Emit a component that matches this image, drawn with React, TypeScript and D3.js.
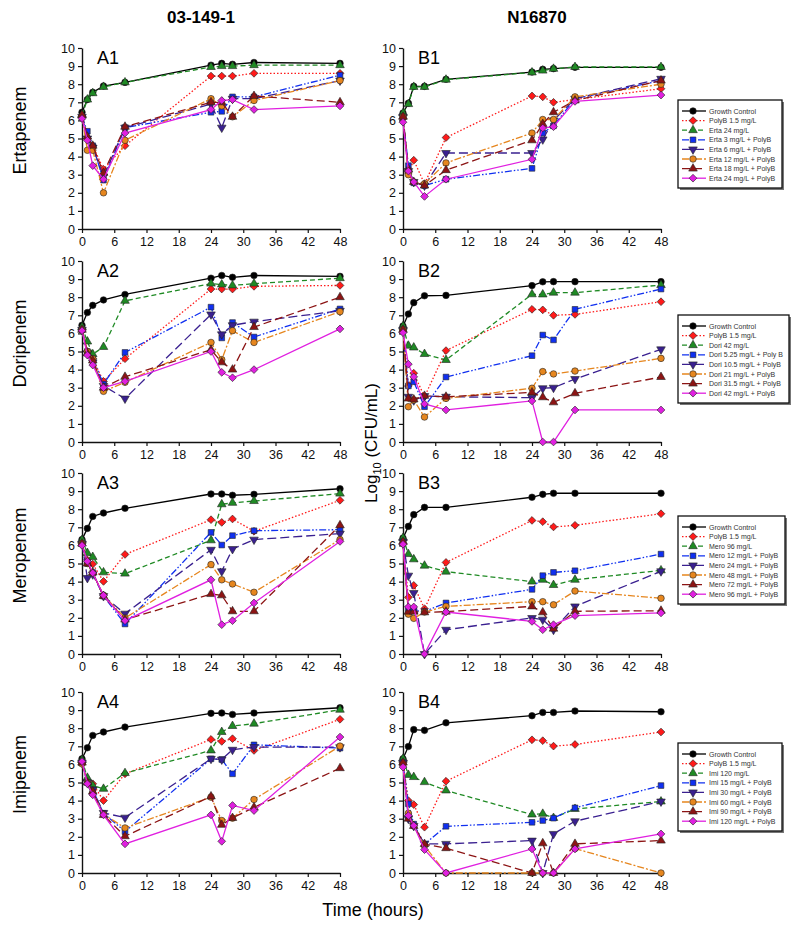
import React, { useEffect, useRef } from "react";
import * as d3 from "d3";

// sampling times (hours)
const hours = [0, 1, 2, 4, 8, 24, 26, 28, 32, 48];
const xTicks = [0, 6, 12, 18, 24, 30, 36, 42, 48];
const yTicks = [0, 1, 2, 3, 4, 5, 6, 7, 8, 9, 10];

const strains = ["03-149-1", "N16870"];
const drugs = ["Ertapenem", "Doripenem", "Meropenem", "Imipenem"];
const panelNames = [["A1", "B1"], ["A2", "B2"], ["A3", "B3"], ["A4", "B4"]];

const ertaLabels = ["Growth Control", "PolyB 1.5 mg/L", "Erta 24 mg/L", "Erta 3 mg/L + PolyB", "Erta 6 mg/L + PolyB", "Erta 12 mg/L + PolyB", "Erta 18 mg/L + PolyB", "Erta 24 mg/L + PolyB"];
const doriLabels = ["Growth Control", "PolyB 1.5 mg/L", "Dori 42 mg/L", "Dori 5.25 mg/L + Poly B", "Dori 10.5 mg/L + PolyB", "Dori 21 mg/L + PolyB", "Dori 31.5 mg/L + PolyB", "Dori 42 mg/L + PolyB"];
const meroLabels = ["Growth Control", "PolyB 1.5 mg/L", "Mero 96 mg/L", "Mero 12 mg/L + PolyB", "Mero 24 mg/L + PolyB", "Mero 48 mg/L + PolyB", "Mero 72 mg/L + PolyB", "Mero 96 mg/L + PolyB"];
const imiLabels = ["Growth Control", "PolyB 1.5 mg/L", "Imi 120 mg/L", "Imi 15 mg/L + PolyB", "Imi 30 mg/L + PolyB", "Imi 60 mg/L + PolyB", "Imi 90 mg/L + PolyB", "Imi 120 mg/L + PolyB"];

// log10 CFU/mL, one row per series (same order as the labels)
const a1 = [
  [6.45, 7.15, 7.55, 7.9, 8.1, 9.05, 9.15, 9.1, 9.2, 9.15],
  [6.2, 5.0, 4.6, 3.3, 4.6, 8.45, 8.45, 8.45, 8.6, 8.6],
  [6.3, 7.15, 7.5, 7.85, 8.1, 8.95, 9.0, 9.0, 9.05, 9.05],
  [6.2, 5.4, 4.6, 2.7, 5.6, 6.45, 6.5, 7.3, 7.3, 8.5],
  [6.2, 5.0, 4.5, 2.9, 5.6, 6.9, 5.6, 7.2, 7.2, 8.2],
  [6.2, 4.35, 4.35, 2.0, 4.9, 7.2, 6.8, 6.2, 7.1, 8.2],
  [6.3, 5.1, 4.6, 3.1, 5.65, 7.0, 7.0, 6.2, 7.35, 7.0],
  [6.1, 4.9, 3.5, 2.75, 5.3, 6.6, 7.1, 7.15, 6.6, 6.8],
];
const b1 = [
  [6.4, 6.95, 7.88, 7.88, 8.27, 8.67, 8.82, 8.86, 8.93, 8.93],
  [6.1, 3.1, 3.8, 2.5, 5.05, 7.35, 7.3, 7.0, 7.15, 7.75],
  [6.4, 6.9, 7.85, 7.85, 8.25, 8.65, 8.75, 8.85, 8.95, 8.95],
  [6.2, 3.5, 2.55, 2.4, 2.75, 3.35, 5.3, 5.7, 7.2, 8.2],
  [6.2, 3.2, 2.6, 2.4, 4.2, 4.2, 4.95, 6.0, 7.2, 8.3],
  [6.2, 3.0, 2.6, 2.5, 3.65, 5.3, 6.05, 6.05, 7.3, 8.0],
  [6.2, 3.3, 2.6, 2.4, 3.25, 4.9, 5.8, 6.45, 7.1, 8.2],
  [5.9, 3.2, 2.6, 1.8, 2.75, 3.85, 5.58, 5.65, 7.05, 7.4],
];
const a2 = [
  [6.45, 7.15, 7.55, 7.85, 8.15, 9.05, 9.2, 9.1, 9.2, 9.15],
  [6.2, 5.0, 4.6, 3.35, 4.6, 8.45, 8.45, 8.45, 8.6, 8.65],
  [6.35, 5.55, 4.85, 5.25, 7.8, 8.75, 8.7, 8.65, 8.75, 9.05],
  [6.2, 5.0, 4.6, 3.2, 4.95, 7.45, 5.75, 6.6, 5.8, 7.35],
  [6.2, 4.9, 4.4, 3.1, 2.4, 7.05, 5.95, 6.45, 6.65, 7.25],
  [6.2, 5.0, 4.6, 2.8, 3.3, 5.5, 4.55, 6.15, 5.5, 7.2],
  [6.2, 4.9, 4.5, 3.0, 3.6, 5.1, 4.4, 4.0, 6.35, 8.0],
  [6.15, 4.8, 4.25, 3.0, 3.35, 5.0, 3.85, 3.55, 4.0, 6.25],
];
const b2 = [
  [6.4, 7.07, 7.7, 8.08, 8.1, 8.64, 8.85, 8.86, 8.86, 8.86],
  [6.2, 3.1, 3.8, 2.5, 5.05, 7.33, 7.3, 7.0, 7.05, 7.75],
  [6.4, 5.32, 5.22, 4.86, 4.53, 8.16, 8.15, 8.25, 8.25, 8.67],
  [6.2, 3.1, 3.33, 1.95, 3.59, 4.77, 5.91, 5.64, 7.33, 8.45],
  [6.2, 2.5, 2.3, 2.54, 2.5, 2.45, 2.97, 3.0, 3.48, 5.12],
  [6.2, 1.95, 2.32, 1.38, 2.41, 2.97, 3.89, 3.76, 3.92, 4.62],
  [6.2, 2.4, 2.35, 2.55, 2.5, 2.74, 2.47, 2.19, 2.69, 3.59],
  [6.04, 4.3, 3.6, 2.1, 1.77, 2.27, 0, 0, 1.77, 1.77],
];
const a3 = [
  [6.32, 6.94, 7.6, 7.79, 8.05, 8.84, 8.84, 8.77, 8.82, 9.13],
  [6.1, 5.2, 4.97, 4.01, 5.5, 7.42, 7.27, 7.46, 6.78, 8.49],
  [6.3, 5.58, 5.36, 4.51, 4.44, 6.28, 8.27, 8.35, 8.45, 8.86],
  [6.1, 5.0, 4.5, 3.2, 1.66, 6.72, 6.02, 6.54, 6.81, 6.87],
  [6.1, 4.2, 4.4, 3.2, 2.23, 5.76, 4.57, 5.8, 6.32, 6.65],
  [6.1, 5.0, 4.47, 3.25, 1.99, 4.94, 4.1, 3.87, 3.41, 6.32],
  [6.1, 5.0, 4.5, 3.2, 1.9, 3.31, 3.24, 2.36, 2.36, 7.11],
  [6.0, 5.12, 4.48, 3.24, 1.84, 4.1, 1.62, 1.84, 2.82, 6.22],
];
const b3 = [
  [6.4, 7.05, 7.7, 8.1, 8.1, 8.66, 8.82, 8.88, 8.88, 8.88],
  [6.1, 3.13, 3.79, 2.5, 5.06, 7.38, 7.31, 7.02, 7.11, 7.75],
  [6.41, 5.52, 5.23, 4.88, 4.55, 4.0, 4.1, 3.81, 4.1, 4.62],
  [6.2, 2.5, 2.4, 2.35, 2.82, 3.57, 4.33, 4.51, 4.6, 5.52],
  [6.2, 4.33, 3.37, 0, 1.34, 1.99, 1.9, 1.34, 2.63, 4.57],
  [6.1, 2.2, 1.97, 2.32, 2.63, 2.89, 2.89, 2.72, 3.48, 3.08],
  [6.2, 2.34, 2.34, 2.3, 2.34, 2.63, 2.3, 1.4, 2.36, 2.39],
  [6.06, 2.6, 2.6, 0, 2.32, 1.8, 1.34, 1.62, 2.12, 2.27],
];
const a4 = [
  [6.31, 6.92, 7.6, 7.79, 8.06, 8.82, 8.84, 8.76, 8.84, 9.13],
  [6.1, 5.1, 4.93, 4.0, 5.48, 7.38, 7.27, 7.42, 6.77, 8.49],
  [6.25, 5.26, 4.83, 4.65, 5.52, 6.77, 7.79, 8.12, 8.25, 9.02],
  [6.1, 5.0, 4.6, 3.3, 2.29, 6.31, 6.27, 5.48, 7.08, 6.9],
  [6.1, 5.0, 4.6, 3.32, 3.06, 6.31, 6.27, 6.81, 6.96, 6.95],
  [6.03, 5.0, 4.4, 3.25, 2.49, 4.19, 2.9, 3.03, 4.06, 7.01],
  [6.1, 5.0, 4.5, 3.2, 2.03, 4.23, 2.66, 3.04, 3.63, 5.79],
  [6.16, 4.93, 4.32, 3.21, 1.61, 3.21, 1.75, 3.73, 3.45, 7.51],
];
const b4 = [
  [6.31, 6.99, 7.92, 7.88, 8.3, 8.69, 8.87, 8.87, 8.95, 8.91],
  [6.1, 4.0, 3.78, 2.53, 5.07, 7.36, 7.31, 7.01, 7.1, 7.79],
  [6.31, 5.42, 5.3, 5.02, 4.56, 3.23, 3.27, 3.04, 3.54, 3.95],
  [6.1, 3.82, 2.7, 1.6, 2.58, 2.8, 2.9, 3.03, 3.6, 4.83],
  [6.1, 3.0, 2.6, 1.61, 1.61, 1.79, 0, 2.16, 2.86, 3.95],
  [6.0, 3.3, 2.6, 1.5, 0, 0, 0, 0, 1.35, 0],
  [6.1, 3.0, 2.6, 1.6, 1.37, 0, 1.64, 0, 1.61, 1.79],
  [5.85, 3.17, 2.62, 1.29, 0, 1.33, 0, 0, 1.33, 2.16],
];

const panelData = [[a1, b1], [a2, b2], [a3, b3], [a4, b4]];
const legendLabels = [ertaLabels, doriLabels, meroLabels, imiLabels];

// series styling
const colors = ["#000000", "#ff1a1a", "#1f8a24", "#1030f0", "#3a2090", "#e6861e", "#8c1414", "#e020e0"];
const dashes = ["", "1.5,2", "5,3", "7,2,1.5,2,1.5,2", "9,4", "7,2,2,2", "8,4", ""];
const shapes = ["circle", "diamond", "up", "square", "down", "circle", "up", "diamond"];

const rowTop = [48, 261, 473, 692];
const plotH = 181;
const colX = [[82, 340], [403, 661]];
const legendTop = [100, 315, 516, 743];
const legendW = [104, 111, 107, 104];

const symbolPath = (shape: string) => {
  if (shape === "circle") return d3.symbol(d3.symbolCircle, 34)();
  if (shape === "square") return d3.symbol(d3.symbolSquare, 32)();
  if (shape === "diamond") return d3.symbol(d3.symbolSquare, 30)();
  return d3.symbol(d3.symbolTriangle, 32)();
};
const symbolRot = (shape: string) => (shape === "diamond" ? 45 : shape === "down" ? 180 : 0);

const App = () => {
  const svgRef = useRef<SVGSVGElement>(null);

  useEffect(() => {
    const svg = d3.select(svgRef.current);
    svg.selectAll("*").remove();
    const font = "Liberation Sans, Arial, sans-serif";

    // column titles
    strains.forEach((s, c) => {
      svg
        .append("text")
        .attr("x", c === 0 ? 201 : 537)
        .attr("y", 23)
        .attr("text-anchor", "middle")
        .attr("font-family", font)
        .attr("font-weight", "bold")
        .attr("font-size", 17)
        .text(s);
    });

    drugs.forEach((drug, r) => {
      const top = rowTop[r];
      const bottom = top + plotH;

      // row label
      svg
        .append("text")
        .attr("transform", `translate(26, ${(top + bottom) / 2 - 8}) rotate(-90)`)
        .attr("text-anchor", "middle")
        .attr("font-family", font)
        .attr("font-size", 18)
        .text(drug);

      [0, 1].forEach((c) => {
        const x = d3.scaleLinear().domain([0, 48]).range(colX[c]);
        const y = d3.scaleLinear().domain([0, 10]).range([bottom, top]);
        const g = svg.append("g");

        // axes
        const xa = g
          .append("g")
          .attr("transform", `translate(0, ${bottom})`)
          .call(d3.axisBottom(x).tickValues(xTicks).tickSize(4).tickSizeOuter(0).tickPadding(4));
        const ya = g
          .append("g")
          .attr("transform", `translate(${colX[c][0]}, 0)`)
          .call(d3.axisLeft(y).tickValues(yTicks).tickSize(4).tickSizeOuter(0).tickPadding(3));
        [xa, ya].forEach((a) => {
          a.select(".domain").attr("stroke", "#111").attr("stroke-width", 1.4);
          a.selectAll(".tick line").attr("stroke", "#111").attr("stroke-width", 1.2);
          a.selectAll(".tick text")
            .attr("font-family", font)
            .attr("font-size", 12.5)
            .attr("fill", "#111");
        });

        // panel name
        g.append("text")
          .attr("x", colX[c][0] + 15)
          .attr("y", top + 16)
          .attr("font-family", font)
          .attr("font-size", 18)
          .text(panelNames[r][c]);

        const series = panelData[r][c];
        const line = d3
          .line<number>()
          .x((d, i) => x(hours[i]))
          .y((d) => y(d));

        series.forEach((vals, s) => {
          g.append("path")
            .attr("d", line(vals))
            .attr("fill", "none")
            .attr("stroke", colors[s])
            .attr("stroke-width", 1.3)
            .attr("stroke-dasharray", dashes[s] || null);
          g.selectAll(null)
            .data(vals)
            .enter()
            .append("path")
            .attr("d", symbolPath(shapes[s]))
            .attr("transform", (d, i) => `translate(${x(hours[i])}, ${y(d)}) rotate(${symbolRot(shapes[s])})`)
            .attr("fill", colors[s])
            .attr("stroke", "#222")
            .attr("stroke-width", 0.6);
        });
      });

      // legend
      const lt = legendTop[r];
      const lg = svg.append("g").attr("transform", `translate(678, ${lt})`);
      lg.append("rect")
        .attr("x", 2)
        .attr("y", 2)
        .attr("width", legendW[r])
        .attr("height", 88)
        .attr("fill", "#777");
      lg.append("rect")
        .attr("width", legendW[r])
        .attr("height", 88)
        .attr("fill", "white")
        .attr("stroke", "#111")
        .attr("stroke-width", 1.3);
      legendLabels[r].forEach((lab, s) => {
        const ly = 11 + s * 9.6;
        lg.append("line")
          .attr("x1", 4)
          .attr("x2", 28)
          .attr("y1", ly)
          .attr("y2", ly)
          .attr("stroke", colors[s])
          .attr("stroke-width", 1.3)
          .attr("stroke-dasharray", dashes[s] || null);
        lg.append("path")
          .attr("d", symbolPath(shapes[s]))
          .attr("transform", `translate(15, ${ly}) rotate(${symbolRot(shapes[s])})`)
          .attr("fill", colors[s])
          .attr("stroke", "#222")
          .attr("stroke-width", 0.6);
        lg.append("text")
          .attr("x", 31)
          .attr("y", ly + 2.5)
          .attr("font-family", font)
          .attr("font-size", 7)
          .attr("fill", "#333")
          .text(lab);
      });
    });

    // y axis title with subscript
    const yt = svg
      .append("text")
      .attr("transform", "translate(377, 443) rotate(-90)")
      .attr("text-anchor", "middle")
      .attr("font-family", font)
      .attr("font-size", 17);
    yt.append("tspan").text("Log");
    yt.append("tspan").attr("font-size", 11).attr("dy", 4).text("10");
    yt.append("tspan").attr("dy", -4).text(" (CFU/mL)");

    // x axis title
    svg
      .append("text")
      .attr("x", 373)
      .attr("y", 916)
      .attr("text-anchor", "middle")
      .attr("font-family", font)
      .attr("font-size", 18)
      .text("Time (hours)");
  }, []);

  return (
    <svg
      ref={svgRef}
      width={800}
      height={929}
      style={{ position: "absolute", left: 0, top: 0, background: "white" }}
    />
  );
};

export default App;
